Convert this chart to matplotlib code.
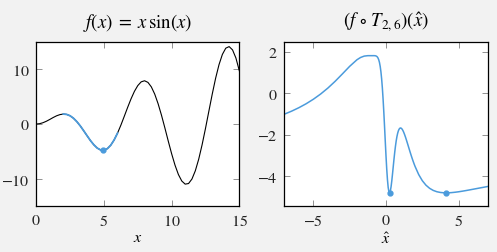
"""
f(x) = x sin(x) and the same function seen through T_{2,6}.
"""

import numpy as np
import matplotlib
matplotlib.use('Agg')
import matplotlib.pyplot as plt

# colours
BLUE = '#4b9bdc'
BG = '#f2f2f2'
TICK_GRAY = '#808080'

# left panel: samples of f on [0, 15], step 0.25
x = np.arange(0, 15.001, 0.25)
fx = [0.00, 0.06, 0.24, 0.51, 0.84, 1.19, 1.50, 1.72, 1.82, 1.75, 1.50, 1.05,
      0.42, -0.35, -1.23, -2.14, -3.03, -3.80, -4.40, -4.75, -4.79, -4.51, -3.88, -2.92,
      -1.68, -0.21, 1.40, 3.04, 4.60, 5.97, 7.03, 7.71, 7.91, 7.61, 6.79, 5.47,
      3.71, 1.61, -0.71, -3.12, -5.44, -7.53, -9.24, -10.43, -11.00, -10.89, -10.07, -8.56,
      -6.44, -3.81, -0.83, 2.33, 5.46, 8.37, 10.85, 12.73, 13.87, 14.16, 13.56, 12.07,
      9.75]
seg_lo, seg_hi = 2, 6          # interval [a, b] of T_{2,6}
x_min, f_min = 4.913, -4.814   # minimum on [2, 6]

# right panel: samples of f(T(x_hat))
x_hat = np.concatenate([np.arange(-7, -2, 0.5), np.arange(-2, -1, 0.25),
                        np.arange(-1, 2, 0.05), np.arange(2, 7.001, 0.25)])
fT = [-1.011, -0.865, -0.698, -0.507, -0.288, -0.036, 0.253, 0.580, 0.938, 1.304, 1.621, 1.732,
      1.798, 1.819, 1.819, 1.819, 1.819, 1.820, 1.819, 1.816, 1.808, 1.791, 1.760, 1.706,
      1.621, 1.492, 1.304, 1.044, 0.696, 0.253, -0.288, -0.916, -1.608, -2.327, -3.027, -3.659,
      -4.178, -4.551, -4.762, -4.812, -4.721, -4.514, -4.227, -3.890, -3.535, -3.185, -2.857, -2.563,
      -2.311, -2.103, -1.940, -1.818, -1.737, -1.691, -1.676, -1.690, -1.726, -1.782, -1.854, -1.940,
      -2.035, -2.138, -2.247, -2.360, -2.474, -2.590, -2.705, -2.819, -2.931, -3.041, -3.147, -3.250,
      -3.349, -3.444, -3.535, -3.929, -4.227, -4.443, -4.594, -4.696, -4.760, -4.796, -4.812, -4.813,
      -4.803, -4.785, -4.762, -4.734, -4.704, -4.672, -4.639, -4.606, -4.573, -4.540, -4.507]
x_hat_min = [0.242, 4.140]

plt.rcParams['font.family'] = 'STIXGeneral'
plt.rcParams['mathtext.fontset'] = 'stix'
plt.rcParams['axes.formatter.use_mathtext'] = True

fig = plt.figure(figsize=(4.97, 2.53), dpi=100, facecolor=BG)
W, H = 497, 253
ax1 = fig.add_axes([36.3 / W, 46 / H, 203 / W, 164 / H])
ax2 = fig.add_axes([284.3 / W, 46 / H, 203.4 / W, 164 / H])

fx = np.array(fx)
seg = (x >= seg_lo) & (x <= seg_hi)
ax1.plot(x, fx, color='black', lw=0.8)
ax1.plot(x[seg], fx[seg], color=BLUE, lw=1.3)
ax1.plot([x_min], [f_min], 'o', color=BLUE, ms=3.5)
ax1.set_xlim(0, 15)
ax1.set_ylim(-15, 15)
ax1.set_xticks([0, 5, 10, 15])
ax1.set_yticks([-10, 0, 10])
ax1.set_title(r'$f(x)\;=\;x\,\sin(x)$', fontsize=13.5, pad=11)
ax1.set_xlabel(r'$x$', fontsize=11.5, labelpad=2)

ax2.plot(x_hat, fT, color=BLUE, lw=1.1)
ax2.plot(x_hat_min, [f_min, f_min], 'o', color=BLUE, ms=3.5)
ax2.set_xlim(-7, 7)
ax2.set_ylim(-5.45, 2.48)
ax2.set_xticks([-5, 0, 5])
ax2.set_yticks([-4, -2, 0, 2])
ax2.set_title(r'$(f\,\circ\,T_{2,6})(\hat{x})$', fontsize=13.5, pad=11)
ax2.set_xlabel(r'$\hat{x}$', fontsize=11.5, labelpad=2)

for ax in (ax1, ax2):
    ax.set_facecolor('white')
    for s in ax.spines.values():
        s.set_linewidth(0.9)
    ax.tick_params(direction='in', top=True, right=True, length=4, width=0.6,
                   color=TICK_GRAY, labelsize=11.5, labelcolor='#222222', pad=5)

plt.savefig('out.png', facecolor=BG)
